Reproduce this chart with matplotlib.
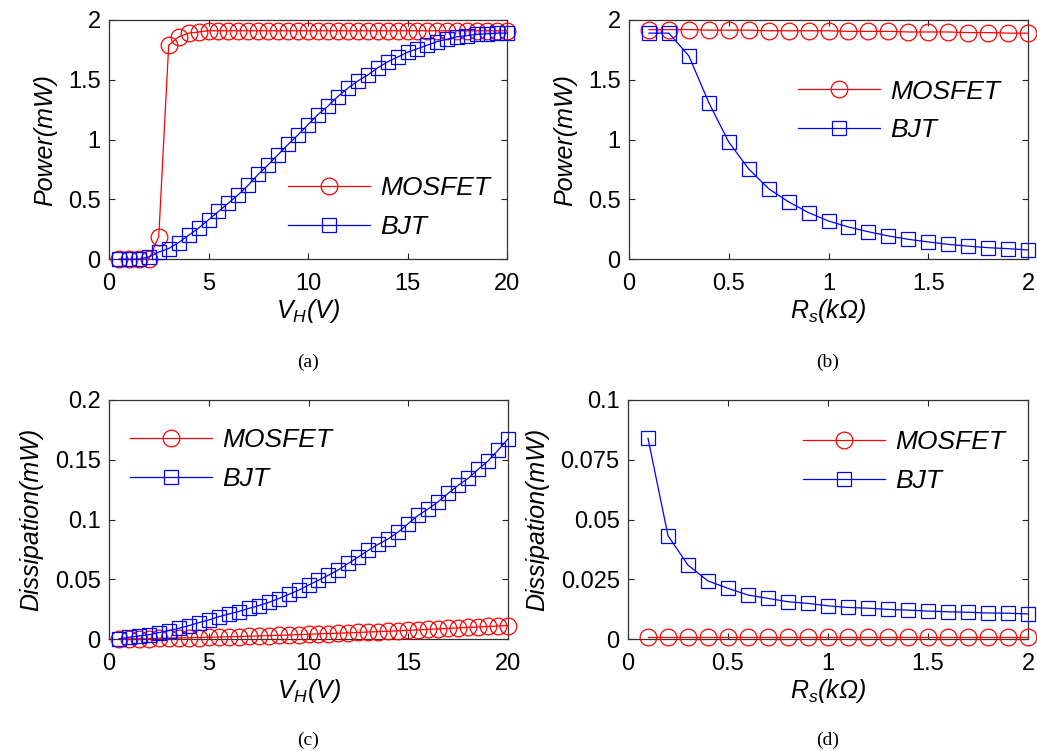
import matplotlib
matplotlib.use("Agg")
import matplotlib.pyplot as plt

plt.rcParams['font.family'] = ['Liberation Sans', 'DejaVu Sans']
plt.rcParams['mathtext.fontset'] = 'custom'
plt.rcParams['mathtext.it'] = 'Liberation Sans:italic'
plt.rcParams['mathtext.rm'] = 'Liberation Sans:italic'
plt.rcParams['mathtext.default'] = 'it'

# ---------------- data ----------------
vh = [0.5, 1.0, 1.5, 2.0, 2.5, 3.0, 3.5, 4.0, 4.5, 5.0,
      5.5, 6.0, 6.5, 7.0, 7.5, 8.0, 8.5, 9.0, 9.5, 10.0,
      10.5, 11.0, 11.5, 12.0, 12.5, 13.0, 13.5, 14.0, 14.5, 15.0,
      15.5, 16.0, 16.5, 17.0, 17.5, 18.0, 18.5, 19.0, 19.5, 20.0]
rs = [0.1, 0.2, 0.3, 0.4, 0.5, 0.6, 0.7, 0.8, 0.9, 1.0,
      1.1, 1.2, 1.3, 1.4, 1.5, 1.6, 1.7, 1.8, 1.9, 2.0]

power_vh_mosfet = [0.0, 0.0, 0.0, 0.0, 0.19, 1.79, 1.86, 1.89, 1.90, 1.91,
                   1.91, 1.91, 1.91, 1.91, 1.91, 1.91, 1.91, 1.91, 1.91, 1.91,
                   1.91, 1.91, 1.91, 1.91, 1.91, 1.91, 1.91, 1.91, 1.91, 1.91,
                   1.91, 1.91, 1.91, 1.91, 1.91, 1.91, 1.91, 1.91, 1.91, 1.91]
power_vh_bjt = [0.0, 0.0, 0.0, 0.02, 0.06, 0.09, 0.14, 0.20, 0.26, 0.33,
                0.40, 0.47, 0.54, 0.62, 0.71, 0.79, 0.875, 0.96, 1.04, 1.125,
                1.21, 1.28, 1.36, 1.43, 1.49, 1.54, 1.60, 1.65, 1.69, 1.73,
                1.76, 1.79, 1.82, 1.84, 1.86, 1.87, 1.88, 1.885, 1.89, 1.89]

power_rs_mosfet = [1.92, 1.92, 1.92, 1.915, 1.915, 1.915, 1.91, 1.91, 1.91, 1.91,
                   1.905, 1.905, 1.905, 1.90, 1.90, 1.90, 1.895, 1.895, 1.89, 1.89]
power_rs_bjt = [1.89, 1.89, 1.70, 1.31, 0.98, 0.755, 0.59, 0.48, 0.39, 0.32,
                0.27, 0.23, 0.195, 0.167, 0.145, 0.125, 0.11, 0.097, 0.089, 0.078]

diss_vh_mosfet = [0.0002, 0.0003, 0.0005, 0.0006, 0.0008, 0.0009, 0.0011, 0.0013, 0.0015, 0.0017,
                  0.0019, 0.0021, 0.0023, 0.0026, 0.0028, 0.0031, 0.0033, 0.0036, 0.0039, 0.0042,
                  0.0045, 0.0048, 0.0051, 0.0054, 0.0057, 0.0061, 0.0064, 0.0068, 0.0071, 0.0075,
                  0.0079, 0.0083, 0.0087, 0.0091, 0.0095, 0.0099, 0.0103, 0.0107, 0.0111, 0.0115]
diss_vh_bjt = [0.0003, 0.0017, 0.0028, 0.0038, 0.0056, 0.0072, 0.0092, 0.0114, 0.0139, 0.0161,
               0.0189, 0.0211, 0.0232, 0.0258, 0.0281, 0.0308, 0.034, 0.0375, 0.041, 0.0453,
               0.0494, 0.0536, 0.058, 0.0635, 0.0689, 0.0744, 0.0795, 0.084, 0.0897, 0.0967,
               0.1036, 0.109, 0.115, 0.122, 0.1286, 0.1345, 0.142, 0.149, 0.158, 0.1675]

diss_rs_mosfet = [0.001, 0.001, 0.001, 0.001, 0.001, 0.001, 0.001, 0.001, 0.001, 0.001,
                  0.001, 0.001, 0.001, 0.001, 0.001, 0.001, 0.001, 0.001, 0.001, 0.001]
diss_rs_bjt = [0.084, 0.0433, 0.031, 0.0244, 0.0213, 0.0185, 0.0171, 0.0157, 0.015, 0.014,
               0.0133, 0.013, 0.0125, 0.0122, 0.0118, 0.0115, 0.0113, 0.011, 0.0109, 0.0106]

series_labels = ['MOSFET', 'BJT']
xticks_vh = [0, 5, 10, 15, 20]
xticks_rs = [0, 0.5, 1, 1.5, 2]
xticklabels_rs = ['0', '0.5', '1', '1.5', '2']
yticks_power = [0, 0.5, 1, 1.5, 2]
yticklabels_power = ['0', '0.5', '1', '1.5', '2']
yticks_diss_vh = [0, 0.05, 0.1, 0.15, 0.2]
yticklabels_diss_vh = ['0', '0.05', '0.1', '0.15', '0.2']
yticks_diss_rs = [0, 0.025, 0.05, 0.075, 0.1]
yticklabels_diss_rs = ['0', '0.025', '0.05', '0.075', '0.1']
captions = ['(a)', '(b)', '(c)', '(d)']

# ---------------- figure ----------------
W, H = 1037, 751
fig = plt.figure(figsize=(W / 100, H / 100), dpi=100)


def px_axes(x0, y0, x1, y1):
    return fig.add_axes([x0 / W, 1 - y1 / H, (x1 - x0) / W, (y1 - y0) / H])


ax_a = px_axes(109, 20, 507, 259.3)
ax_b = px_axes(629, 20, 1028, 259.3)
ax_c = px_axes(109, 400, 508, 639.3)
ax_d = px_axes(628, 400, 1028, 639.3)

RED = '#ff0000'
BLUE = '#0000ff'
TICK_FS = 17
LAB_FS = 18
LEG_FS = 19


def draw(ax, x, ym, yb, xlim, ylim, xt, xtl, yt, ytl, xlabel, ylabel, leg_xy):
    lm, = ax.plot(x, ym, '-', color=RED, lw=0.9, marker='o', ms=12,
                  mfc='none', mec=RED, mew=0.9, clip_on=False, zorder=3)
    lb, = ax.plot(x, yb, '-', color=BLUE, lw=0.9, marker='s', ms=10.5,
                  mfc='none', mec=BLUE, mew=0.9, clip_on=False, zorder=4)
    ax.set_xlim(*xlim)
    ax.set_ylim(*ylim)
    ax.set_xticks(xt)
    ax.set_xticklabels(xtl)
    ax.set_yticks(yt)
    ax.set_yticklabels(ytl)
    ax.tick_params(direction='in', top=True, right=True, length=4,
                   width=0.8, labelsize=TICK_FS, colors='#222222',
                   labelcolor='black')
    ax.tick_params(axis='x', pad=10)
    ax.tick_params(axis='y', pad=6)
    for s in ax.spines.values():
        s.set_color('#333333')
        s.set_linewidth(0.9)
    ax.set_xlabel(xlabel, fontsize=LAB_FS, style='italic', labelpad=1)
    ax.set_ylabel(ylabel, fontsize=LAB_FS, style='italic', labelpad=8)
    leg = ax.legend([lm, lb], series_labels, loc='center left',
                    bbox_to_anchor=leg_xy, frameon=False, borderpad=0,
                    borderaxespad=0, handlelength=3.1, handletextpad=0.4,
                    labelspacing=0.55,
                    prop={'size': LEG_FS, 'style': 'italic'})
    return leg


draw(ax_a, vh, power_vh_mosfet, power_vh_bjt, (0, 20), (0, 2),
     xticks_vh, [str(v) for v in xticks_vh], yticks_power, yticklabels_power,
     r'$V_H(V)$', 'Power(mW)', (0.45, 0.2165))
draw(ax_b, rs, power_rs_mosfet, power_rs_bjt, (0, 2), (0, 2),
     xticks_rs, xticklabels_rs, yticks_power, yticklabels_power,
     r'$R_s$' + '(kΩ)', 'Power(mW)', (0.424, 0.62))
draw(ax_c, vh, diss_vh_mosfet, diss_vh_bjt, (0, 20), (0, 0.2),
     xticks_vh, [str(v) for v in xticks_vh], yticks_diss_vh, yticklabels_diss_vh,
     r'$V_H(V)$', 'Dissipation(mW)', (0.053, 0.751))
draw(ax_d, rs, diss_rs_mosfet, diss_rs_bjt, (0, 2), (0, 0.1),
     xticks_rs, xticklabels_rs, yticks_diss_rs, yticklabels_diss_rs,
     r'$R_s$' + '(kΩ)', 'Dissipation(mW)', (0.437, 0.742))

cap_pos = [(308, 362), (828, 362), (308, 740), (828, 740)]
for c, (cx, cy) in zip(captions, cap_pos):
    fig.text(cx / W, 1 - cy / H, c, ha='center', va='center',
             fontsize=14, family='Liberation Serif')

fig.savefig('out.png', dpi=100)
